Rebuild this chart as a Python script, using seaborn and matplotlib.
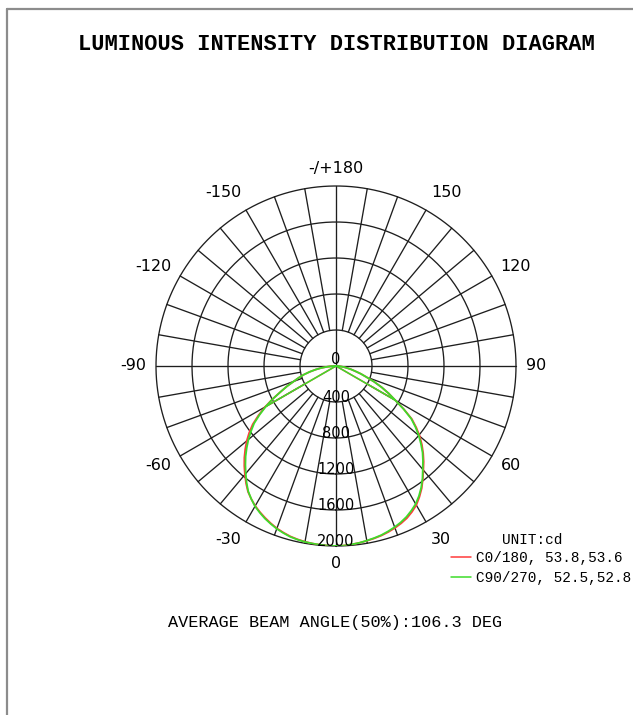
import numpy as np
import pandas as pd
import matplotlib
matplotlib.use("Agg")
import matplotlib.pyplot as plt
from matplotlib.lines import Line2D
import seaborn as sns

gamma = np.arange(0, 90.1, 2.5)
c0 = [2000, 1997, 1990, 1982, 1972, 1962, 1950, 1934, 1915, 1892, 1865, 1828, 1785, 1725, 1660, 1585,
      1510, 1442, 1370, 1295, 1215, 1125, 1030, 895, 760, 660, 560, 460, 360, 290, 220, 170, 120, 85, 50, 22, 0]
c180 = [2000, 1998, 1995, 1990, 1983, 1973, 1960, 1941, 1920, 1892, 1862, 1830, 1795, 1752, 1705, 1642,
        1575, 1508, 1440, 1368, 1295, 1215, 1130, 1022, 910, 795, 680, 590, 500, 435, 370, 300, 230, 165, 100, 50, 0]
c90 = [2000, 1998, 1990, 1982, 1970, 1958, 1945, 1926, 1905, 1880, 1850, 1812, 1770, 1714, 1650, 1578,
       1500, 1430, 1360, 1280, 1200, 1112, 1020, 890, 760, 660, 560, 460, 360, 290, 220, 170, 120, 85, 50, 22, 0]
c270 = [2000, 1998, 1995, 1990, 1985, 1976, 1965, 1946, 1925, 1898, 1870, 1836, 1800, 1752, 1700, 1632,
        1560, 1490, 1420, 1345, 1270, 1190, 1110, 1005, 900, 790, 680, 590, 500, 435, 370, 300, 230, 165, 100, 50, 0]
corda_gamma = 60

planos = ["C0/180", "C90/270"]
legenda = ["C0/180, 53.8,53.6", "C90/270, 52.5,52.8"]
cores = {"C0/180": "#ff3b3b", "C90/270": "#3ddc2a"}

aneis = [400, 800, 1200, 1600, 2000]
rotulos_angulo = [0, 30, 60, 90, 120, 150, 180, -150, -120, -90, -60, -30]

# monta tabela longa: lado direito (+gamma) e esquerdo (-gamma)
linhas = []
for plano, dir_, esq in [("C0/180", c0, c180), ("C90/270", c90, c270)]:
    for g, v in zip(gamma[::-1], esq[::-1]):
        linhas.append((plano, -g, v))
    for g, v in zip(gamma[1:], dir_[1:]):
        linhas.append((plano, g, v))
df = pd.DataFrame(linhas, columns=["plano", "gamma", "cd"])
df["theta"] = np.deg2rad(df["gamma"])

sns.set_style("white")
plt.rcParams["font.family"] = ["DejaVu Sans"]
plt.rcParams["text.color"] = "black"

W, H = 633, 715
fig = plt.figure(figsize=(W / 100, H / 100), dpi=100)
cx, cy, R = 336, 366, 180
ax = fig.add_axes([(cx - R) / W, (H - cy - R) / H, 2 * R / W, 2 * R / H], projection="polar")
ax.set_theta_zero_location("S")
ax.set_theta_direction(1)
ax.set_ylim(0, 2000)
ax.grid(False)
ax.set_xticks([])
ax.set_yticks([])
ax.spines["polar"].set_visible(False)
ax.patch.set_alpha(0)

# grade
cor_grade = "#1e1e1e"
tt = np.linspace(0, 2 * np.pi, 400)
for r in aneis:
    ax.plot(tt, np.full_like(tt, r), color=cor_grade, lw=0.95, clip_on=False, zorder=1)
for a in range(0, 360, 10):
    r0 = 0 if a % 90 == 0 else 400
    ax.plot([np.deg2rad(a)] * 2, [r0, 2000], color=cor_grade, lw=0.95, clip_on=False, zorder=1)

# curvas
for plano in planos:
    sub = df[df["plano"] == plano]
    sns.lineplot(data=sub, x="theta", y="cd", color=cores[plano], lw=1.3, sort=False,
                 estimator=None, ax=ax, legend=False, zorder=3)
    for s in (-1, 1):
        p = sub[sub["gamma"] == s * corda_gamma]
        ax.plot([p["theta"].iloc[0]] * 2, [0, p["cd"].iloc[0]], color=cores[plano], lw=1.1, zorder=3)
ax.set_xlabel("")
ax.set_ylabel("")

# rotulos dos aneis
ax.text(np.pi, 67, "0", ha="center", va="center", fontsize=10.5, zorder=4)
for r in aneis:
    ax.text(0, r - 55, str(r), ha="center", va="center", fontsize=10.5, zorder=4)

# rotulos de angulo
for a in rotulos_angulo:
    t = np.deg2rad(a)
    txt = "-/+180" if a == 180 else str(a)
    if a in (0, 180):
        x = 0.5
        y = 0.5 - (197 / 360) * np.cos(t)
        ha = "center"
    else:
        x = 0.5 + (190 / 360) * np.sin(t)
        y = 0.5 - (200 / 360) * np.cos(t)
        ha = "left" if a > 0 else "right"
    ax.text(x, y, txt, transform=ax.transAxes, ha=ha, va="center", fontsize=11.5)

mono = ["Liberation Mono", "DejaVu Sans Mono"]
fig.text(336 / W, 1 - 45 / H, "LUMINOUS INTENSITY DISTRIBUTION DIAGRAM", ha="center", va="center",
         fontsize=15.8, fontweight="bold", family=mono)
fig.text(335 / W, 1 - 623 / H, "AVERAGE BEAM ANGLE(50%):106.3 DEG", ha="center", va="center",
         fontsize=12.2, family=mono)
fig.text(502 / W, 1 - 540 / H, "UNIT:cd", ha="left", va="center", fontsize=10.4, family=mono)

handles = [Line2D([], [], color=cores[p], lw=1.1) for p in planos]
fig.legend(handles, legenda, loc="upper left", bbox_to_anchor=(451 / W, 1 - 551 / H),
           frameon=False, borderpad=0, borderaxespad=0, handlelength=1.4, handletextpad=0.35,
           labelspacing=0.39, prop={"family": mono, "size": 10.4})

# moldura
cor_borda = "#8c8c8c"
fig.add_artist(Line2D([7 / W, 1], [1 - 9 / H] * 2, color=cor_borda, lw=1.6, transform=fig.transFigure))
fig.add_artist(Line2D([7 / W] * 2, [0, 1 - 9 / H], color=cor_borda, lw=1.6, transform=fig.transFigure))

fig.savefig("out.png", dpi=100)
